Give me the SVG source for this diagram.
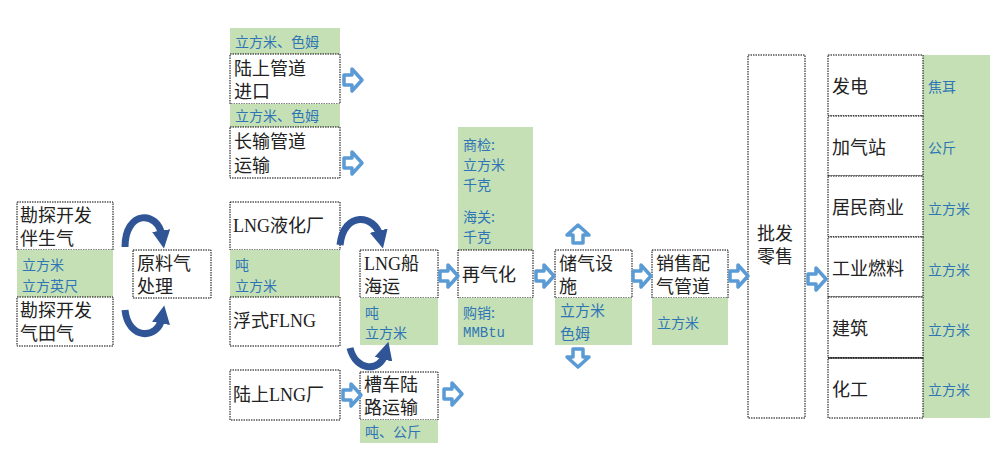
<svg xmlns="http://www.w3.org/2000/svg" width="1000" height="465" viewBox="0 0 1000 465">
<style>
.b{fill:#fff;stroke:#000;stroke-width:1;stroke-dasharray:1.5 1}
.g{fill:#c5e0b4}
.t{font-family:"Liberation Serif","Noto Sans CJK SC",serif;font-size:18px;fill:#222}
.u{font-family:"Noto Sans CJK SC",sans-serif;font-size:14px;fill:#2e75b6}
.c{fill:none;stroke:#2f5597;stroke-width:7;marker-end:url(#ah)}
</style>
<defs>
<path id="ra" d="M0,-5 H8 V-11 L18,0 L8,11 V5 H0 Z" fill="#fff" stroke="#5b9bd5" stroke-width="3.5" stroke-linejoin="round"/>
<marker id="ah" viewBox="0 0 10 10" refX="3" refY="5" markerWidth="2.6" markerHeight="2.6" orient="auto" markerUnits="strokeWidth"><path d="M0,0 L10,5 L0,10 Z" fill="#2f5597"/></marker>
</defs>
<g id="n1"><rect class="b" x="17" y="202" width="96" height="48"/><text class="t" x="20" y="222">勘探开发</text><text class="t" x="20" y="245">伴生气</text></g>
<g id="n1u"><rect class="g" x="17" y="250" width="96" height="47"/><text class="u" x="22" y="270">立方米</text><text class="u" x="22" y="291">立方英尺</text></g>
<g id="n2"><rect class="b" x="17" y="297" width="96" height="49"/><text class="t" x="20" y="317">勘探开发</text><text class="t" x="20" y="340">气田气</text></g>
<g id="n3"><rect class="b" x="133" y="250" width="78" height="48"/><text class="t" x="137" y="270">原料气</text><text class="t" x="137" y="293">处理</text></g>
<g id="n4u"><rect class="g" x="230" y="28" width="110" height="26"/><text class="u" x="235" y="47">立方米、色姆</text></g>
<g id="n4"><rect class="b" x="230" y="54" width="110" height="50"/><text class="t" x="234" y="75">陆上管道</text><text class="t" x="234" y="98">进口</text></g>
<g id="n5u"><rect class="g" x="230" y="104" width="110" height="23"/><text class="u" x="235" y="121">立方米、色姆</text></g>
<g id="n5"><rect class="b" x="230" y="127" width="110" height="51"/><text class="t" x="234" y="148">长输管道</text><text class="t" x="234" y="172">运输</text></g>
<g id="n6"><rect class="b" x="230" y="202" width="110" height="48"/><text class="t" x="233" y="232">LNG液化厂</text></g>
<g id="n6u"><rect class="g" x="230" y="250" width="110" height="47"/><text class="u" x="235" y="270">吨</text><text class="u" x="235" y="291">立方米</text></g>
<g id="n7"><rect class="b" x="230" y="297" width="110" height="49"/><text class="t" x="233" y="327">浮式FLNG</text></g>
<g id="n8"><rect class="b" x="230" y="370" width="110" height="50"/><text class="t" x="233" y="401">陆上LNG厂</text></g>
<g id="n9"><rect class="b" x="360" y="250" width="78" height="48"/><text class="t" x="364" y="270">LNG船</text><text class="t" x="364" y="293">海运</text></g>
<g id="n9u"><rect class="g" x="360" y="298" width="78" height="47"/><text class="u" x="365" y="318">吨</text><text class="u" x="365" y="338">立方米</text></g>
<g id="n10"><rect class="b" x="360" y="372" width="78" height="48"/><text class="t" x="364" y="391">槽车陆</text><text class="t" x="364" y="414">路运输</text></g>
<g id="n10u"><rect class="g" x="360" y="420" width="78" height="23"/><text class="u" x="365" y="437">吨、公斤</text></g>
<g id="n11u"><rect class="g" x="458" y="127" width="75" height="123"/><text class="u" x="463" y="150">商检:</text><text class="u" x="463" y="170">立方米</text><text class="u" x="463" y="190">千克</text><text class="u" x="463" y="222">海关:</text><text class="u" x="463" y="242">千克</text></g>
<g id="n11"><rect class="b" x="458" y="250" width="75" height="48"/><text class="t" x="462" y="281">再气化</text></g>
<g id="n11d"><rect class="g" x="458" y="298" width="75" height="47"/><text class="u" x="463" y="318">购销:</text><text class="u" x="463" y="337" style="font-family:'Liberation Mono',monospace">MMBtu</text></g>
<g id="n12"><rect class="b" x="555" y="250" width="77" height="48"/><text class="t" x="559" y="270">储气设</text><text class="t" x="559" y="293">施</text></g>
<g id="n12u"><rect class="g" x="555" y="298" width="77" height="47"/><text class="u" x="560" y="316" style="font-size:15px">立方米</text><text class="u" x="560" y="339" style="font-size:15px">色姆</text></g>
<g id="n13"><rect class="b" x="652" y="250" width="76" height="48"/><text class="t" x="656" y="270">销售配</text><text class="t" x="656" y="293">气管道</text></g>
<g id="n13u"><rect class="g" x="652" y="298" width="76" height="47"/><text class="u" x="657" y="328">立方米</text></g>
<g id="n14"><rect class="b" x="748" y="55" width="57" height="363"/><text class="t" x="757" y="240">批发</text><text class="t" x="757" y="263">零售</text></g>
<g id="n15"><rect class="g" x="923" y="55" width="67" height="363"/>
<rect class="b" x="828" y="55" width="95" height="61"/><text class="t" x="832" y="93">发电</text><text class="u" x="928" y="92">焦耳</text>
<rect class="b" x="828" y="116" width="95" height="60"/><text class="t" x="832" y="154">加气站</text><text class="u" x="928" y="153">公斤</text>
<rect class="b" x="828" y="176" width="95" height="61"/><text class="t" x="832" y="214">居民商业</text><text class="u" x="928" y="214">立方米</text>
<rect class="b" x="828" y="237" width="95" height="60"/><text class="t" x="832" y="275">工业燃料</text><text class="u" x="928" y="275">立方米</text>
<rect class="b" x="828" y="297" width="95" height="61"/><text class="t" x="832" y="335">建筑</text><text class="u" x="928" y="335">立方米</text>
<rect class="b" x="828" y="358" width="95" height="60"/><text class="t" x="832" y="396">化工</text><text class="u" x="928" y="395">立方米</text>
<line x1="828" y1="358" x2="923" y2="358" stroke="#000" stroke-width="1.2"/></g>
<g id="connectors">
<use href="#ra" x="344" y="80"/>
<use href="#ra" x="344" y="163"/>
<use href="#ra" x="343" y="395"/>
<use href="#ra" x="444" y="394"/>
<use href="#ra" x="440" y="276"/>
<use href="#ra" x="536" y="276"/>
<use href="#ra" x="633" y="276"/>
<use href="#ra" x="730" y="276"/>
<use href="#ra" x="808" y="279"/>
<use href="#ra" transform="translate(578,243) rotate(-90)"/>
<use href="#ra" transform="translate(578,349) rotate(90)"/>
<path class="c" d="M125,247 C125,210 158,210 162,236"/>
<path class="c" d="M125,310 C128,340 158,340 162,318"/>
<path class="c" d="M340,245 C344,210 375,215 380,236"/>
<path class="c" d="M350,348 C356,372 380,372 385,354"/>
</g>
</svg>
